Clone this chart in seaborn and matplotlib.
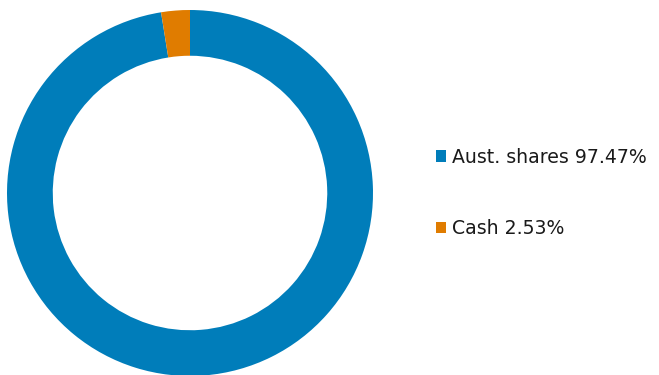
import matplotlib
matplotlib.use("Agg")
import matplotlib.pyplot as plt
import seaborn as sns
from matplotlib.patches import Patch

sns.set_theme(style="white")
plt.rcParams["font.family"] = ["DejaVu Sans"]

categories = ["Aust. shares", "Cash"]
values = [97.47, 2.53]
colors = ["#007DBA", "#E07C00"]

fig = plt.figure(figsize=(6.59, 3.75), dpi=100)
ax = fig.add_axes([7 / 659, -1 / 375, 366 / 659, 366 / 375])
ax.pie(values, colors=colors, startangle=90, counterclock=False, radius=1,
       wedgeprops=dict(width=0.25, linewidth=0))
ax.set_xlim(-1, 1)
ax.set_ylim(-1, 1)
ax.set_aspect("equal")
ax.axis("off")

handles = [Patch(facecolor=c, edgecolor="none") for c in colors]
labels = [f"{n} {v:.2f}%" for n, v in zip(categories, values)]
fig.legend(handles, labels, loc="center left", bbox_to_anchor=(419 / 659, 1 - 193 / 375),
           frameon=False, fontsize=13.6, handlelength=0.55, handleheight=0.55,
           handletextpad=0.3, labelspacing=2.8, labelcolor="#1a1a1a")

fig.savefig("out.png", dpi=100)
